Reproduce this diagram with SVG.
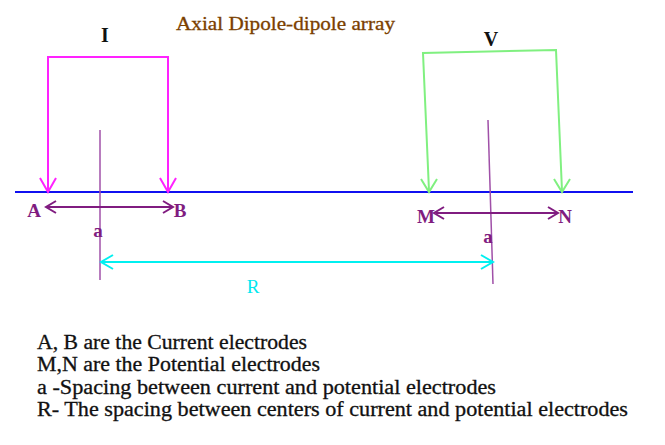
<svg xmlns="http://www.w3.org/2000/svg" width="665" height="445" viewBox="0 0 665 445">
<style>
.t{font-family:"Liberation Serif","DejaVu Serif",serif}
.lbl{font-family:"Liberation Serif","DejaVu Serif",serif;font-weight:bold;font-size:19px;fill:#801c80}
.desc{font-family:"Liberation Serif","DejaVu Serif",serif;font-size:20px;fill:#111;stroke:#111;stroke-width:0.3}
.mag{stroke:#ff22ff;stroke-width:2;fill:none}
.grn{stroke:#80f080;stroke-width:2;fill:none}
.pur{stroke:#801c80;stroke-width:2;fill:none}
.cy{stroke:#00f0f0;stroke-width:2;fill:none}
.guide{stroke:#a050a8;stroke-width:1.5;fill:none}
</style>
<rect width="665" height="445" fill="#fff"/>
<text class="t" x="176" y="30" font-size="19" fill="#7b3f00" stroke="#7b3f00" stroke-width="0.3" textLength="219" lengthAdjust="spacingAndGlyphs">Axial Dipole-dipole array</text>
<g id="ground"><line x1="15" y1="192" x2="633" y2="192" stroke="#1010f0" stroke-width="2"/></g>
<g id="current-source">
<text class="t" x="105" y="42" font-size="20" font-weight="bold" fill="#111" text-anchor="middle">I</text>
<polyline class="mag" points="48,191 48,57 168,57 168,191"/>
<polyline class="mag" points="40,178 48,192 56,178"/>
<polyline class="mag" points="160,178 168,192 176,178"/>
</g>
<g id="potential-meter">
<text class="t" x="491" y="46" font-size="20" font-weight="bold" fill="#111" text-anchor="middle">V</text>
<polyline class="grn" points="429,191 423,53 556,50 562,191"/>
<polyline class="grn" points="421,179 429,192 437,179"/>
<polyline class="grn" points="554,179 562,192 570,179"/>
</g>
<g id="electrode-A"><text class="lbl" x="34" y="217" text-anchor="middle">A</text></g>
<g id="electrode-B"><text class="lbl" x="180" y="217" text-anchor="middle">B</text></g>
<g id="electrode-M"><text class="lbl" x="426" y="223" text-anchor="middle">M</text></g>
<g id="electrode-N"><text class="lbl" x="565" y="223" text-anchor="middle">N</text></g>
<g id="centre-AB"><line class="guide" x1="100" y1="130" x2="100" y2="280"/><text class="lbl" x="98" y="237" text-anchor="middle">a</text></g>
<g id="centre-MN"><line class="guide" x1="488" y1="120" x2="493" y2="284"/><text class="lbl" x="488" y="243" text-anchor="middle">a</text></g>
<g id="connectors">
<line class="pur" x1="47" y1="207" x2="172" y2="207"/>
<polyline class="pur" points="56,201 46,207 56,213"/>
<polyline class="pur" points="163,201 173,207 163,213"/>
<line class="pur" x1="436" y1="213" x2="557" y2="213"/>
<polyline class="pur" points="444,207 434,213 444,219"/>
<polyline class="pur" points="548,207 558,213 548,219"/>
<line class="cy" x1="101" y1="262" x2="492" y2="262"/>
<polyline class="cy" points="113,255 101,262 113,269"/>
<polyline class="cy" points="481,255 493,262 481,269"/>
</g>
<text class="t" x="253" y="293" font-size="19" fill="#00e8f0" text-anchor="middle">R</text>
<g id="legend">
<text class="desc" x="37" y="349" textLength="270" lengthAdjust="spacingAndGlyphs">A, B are the Current electrodes</text>
<text class="desc" x="37" y="371" textLength="283" lengthAdjust="spacingAndGlyphs">M,N are the Potential electrodes</text>
<text class="desc" x="37" y="394" textLength="459" lengthAdjust="spacingAndGlyphs">a -Spacing between current and potential electrodes</text>
<text class="desc" x="37" y="416" textLength="591" lengthAdjust="spacingAndGlyphs">R- The spacing between centers of current and potential electrodes</text>
</g>
</svg>
